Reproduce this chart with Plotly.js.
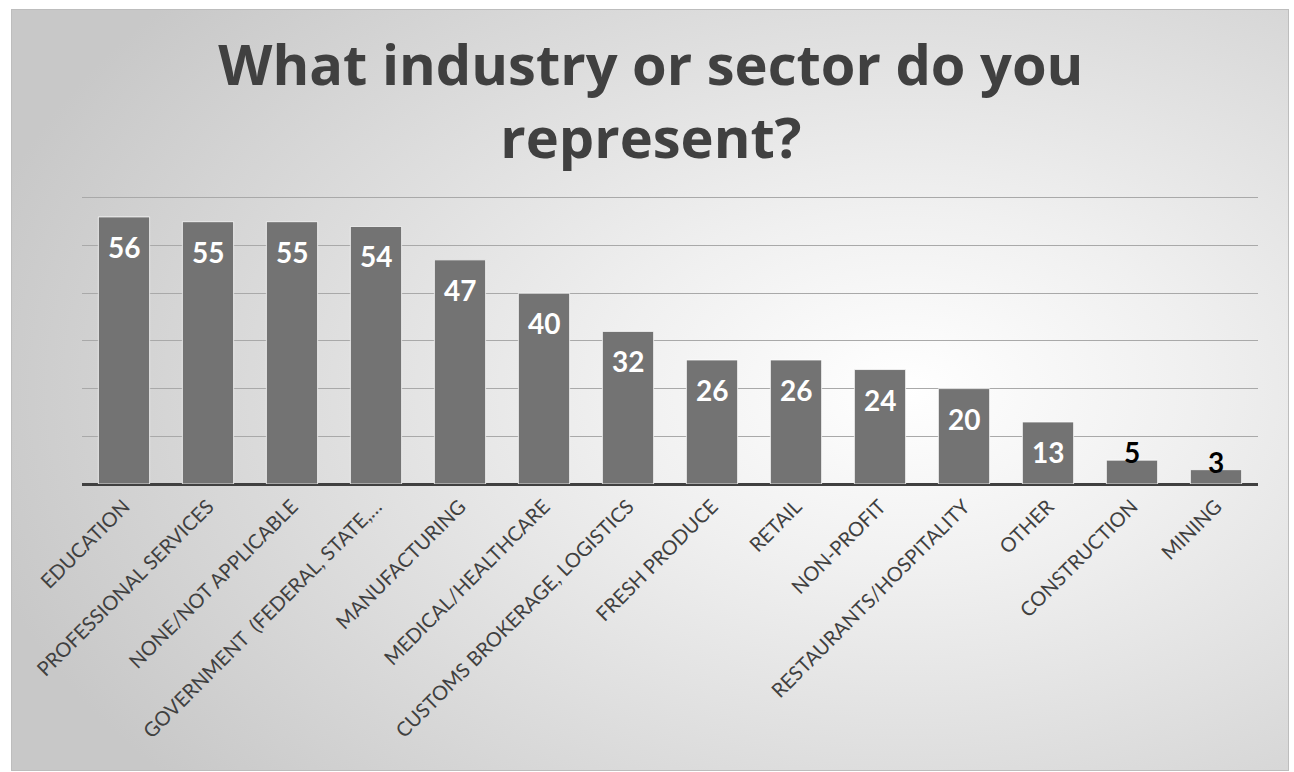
<!DOCTYPE html>
<html>
<head>
<meta charset="utf-8">
<script src="https://cdn.plot.ly/plotly-3.0.1.min.js"></script>
<style>
  html, body { margin: 0; padding: 0; background: #ffffff; }
  #wrap { position: relative; width: 1294px; height: 772px; }
  #frame {
    position: absolute; left: 11px; top: 9px; width: 1276px; height: 760px;
    border: 1px solid #bdbdbd;
    background: radial-gradient(ellipse 75% 80% at 70% 50%, #ffffff 0%, #f0f0f0 30%, #c8c8c8 100%);
  }
  #chart { position: absolute; left: 0; top: 0; width: 1294px; height: 772px; }
</style>
</head>
<body>
<div id="wrap">
  <div id="frame"></div>
  <div id="chart"></div>
</div>
<script>
const categories = [
  "EDUCATION", "PROFESSIONAL SERVICES", "NONE/NOT APPLICABLE",
  "GOVERNMENT  (FEDERAL, STATE,…", "MANUFACTURING", "MEDICAL/HEALTHCARE",
  "CUSTOMS BROKERAGE, LOGISTICS", "FRESH PRODUCE", "RETAIL", "NON-PROFIT",
  "RESTAURANTS/HOSPITALITY", "OTHER", "CONSTRUCTION", "MINING"
];
const counts = [56, 55, 55, 54, 47, 40, 32, 26, 26, 24, 20, 13, 5, 3];
const titleText = "What industry or sector do you<br>represent?";

const FONT = "Lato, 'Open Sans', sans-serif";
const TITLE_FONT = "'Open Sans', Lato, sans-serif";

const trace = {
  type: "bar",
  x: categories,
  y: counts,
  marker: { color: "#737373", line: { color: "rgba(255,255,255,0.75)", width: 1 } },
  hoverinfo: "x+y"
};

const annotations = categories.map((c, i) => {
  const v = counts[i];
  const inside = v >= 10;
  return {
    x: c, y: v, xref: "x", yref: "y",
    text: String(v), showarrow: false,
    yanchor: "middle",
    yshift: inside ? -30 : 8,
    font: { family: FONT, size: 28, weight: 700, color: inside ? "#ffffff" : "#000000" }
  };
});

const layout = {
  width: 1294, height: 772,
  paper_bgcolor: "rgba(0,0,0,0)",
  plot_bgcolor: "rgba(0,0,0,0)",
  margin: { l: 82, r: 36, t: 195, b: 288 },
  bargap: 0.39,
  showlegend: false,
  title: {
    text: titleText,
    font: { family: TITLE_FONT, size: 56, weight: 700, color: "#404040" },
    x: 0.503, xanchor: "center",
    y: 0.89, yanchor: "top", yref: "container"
  },
  xaxis: {
    type: "category",
    tickangle: -45,
    tickfont: { family: FONT, size: 20, weight: 400, color: "#404040" },
    ticklabelstandoff: 6,
    showgrid: false, ticks: "", showline: false,
    automargin: false
  },
  yaxis: {
    range: [0, 60.6], tick0: 0, dtick: 10,
    showticklabels: false, ticks: "",
    showgrid: true, gridcolor: "#a9a9a9", gridwidth: 1,
    zeroline: true, zerolinecolor: "#404040", zerolinewidth: 3,
    fixedrange: true
  },
  annotations: annotations
};

Plotly.newPlot("chart", [trace], layout, { displayModeBar: false, staticPlot: true });
</script>
</body>
</html>
